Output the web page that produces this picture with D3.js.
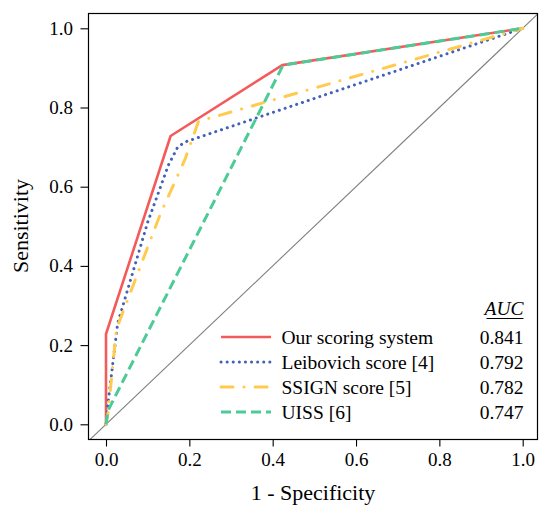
<!DOCTYPE html>
<html>
<head>
<meta charset="utf-8">
<script src="https://cdn.jsdelivr.net/npm/d3@7"></script>
<style>
  body { margin: 0; background: #fff; }
  text { font-family: "Liberation Serif", "Times New Roman", serif; fill: #000; }
</style>
</head>
<body>
<div id="chart"></div>
<script>
// ROC curves (1 - specificity, sensitivity)
var seriesNames = ["Our scoring system", "Leibovich score [4]", "SSIGN score [5]", "UISS [6]"];
var aucValues = ["0.841", "0.792", "0.782", "0.747"];
var ourFpr  = [0, 0, 0.155, 0.423, 1];
var ourTpr  = [0, 0.228, 0.728, 0.907, 1];
var leiFpr  = [0, 0.005, 0.028, 0.10, 0.15, 0.172, 0.19, 1];
var leiTpr  = [0, 0.055, 0.255, 0.51, 0.655, 0.70, 0.713, 1];
var ssiFpr  = [0, 0.005, 0.025, 0.13, 0.19, 0.222, 1];
var ssiTpr  = [0, 0.03, 0.24, 0.53, 0.67, 0.765, 1];
var uissFpr = [0, 0.005, 0.425, 1];
var uissTpr = [0, 0.035, 0.907, 1];
var tickValues = [0, 0.2, 0.4, 0.6, 0.8, 1.0];

var width = 539, height = 505;
var frame = { left: 88.5, right: 537.5, top: 13.5, bottom: 439.5 };

var x = d3.scaleLinear().domain([0, 1]).range([106, 522.7]);
var y = d3.scaleLinear().domain([0, 1]).range([424.3, 28.3]);

var colors = ["#f55a5a", "#4262b8", "#ffcb4f", "#4ccb97"];
var widths = [2.6, 3, 3, 3];
var dashes = [null, "0.1,6", "12,11,0.1,11", "10,5"];
var caps = ["butt", "round", "round", "butt"];

var svg = d3.select("#chart").append("svg")
    .attr("width", width)
    .attr("height", height);

svg.append("clipPath").attr("id", "clip")
  .append("rect")
    .attr("x", frame.left).attr("y", frame.top)
    .attr("width", frame.right - frame.left)
    .attr("height", frame.bottom - frame.top);

var plot = svg.append("g").attr("clip-path", "url(#clip)");

// reference diagonal
plot.append("line")
    .attr("x1", x(-0.1)).attr("y1", y(-0.1))
    .attr("x2", x(1.1)).attr("y2", y(1.1))
    .attr("stroke", "#808080")
    .attr("stroke-width", 1.1);

var curves = [
  d3.zip(ourFpr, ourTpr),
  d3.zip(leiFpr, leiTpr),
  d3.zip(ssiFpr, ssiTpr),
  d3.zip(uissFpr, uissTpr)
];

var line = d3.line()
    .x(function (d) { return x(d[0]); })
    .y(function (d) { return y(d[1]); });

curves.forEach(function (pts, i) {
  plot.append("path")
      .datum(pts)
      .attr("d", line)
      .attr("fill", "none")
      .attr("stroke", colors[i])
      .attr("stroke-width", widths[i])
      .attr("stroke-dasharray", dashes[i])
      .attr("stroke-linecap", caps[i])
      .attr("stroke-linejoin", "round");
});

// frame
svg.append("rect")
    .attr("x", frame.left).attr("y", frame.top)
    .attr("width", frame.right - frame.left)
    .attr("height", frame.bottom - frame.top)
    .attr("fill", "none")
    .attr("stroke", "#000")
    .attr("stroke-width", 1.2);

// axes
var xAxis = d3.axisBottom(x).tickValues(tickValues).tickFormat(d3.format(".1f"))
    .tickSize(7).tickPadding(6);
var yAxis = d3.axisLeft(y).tickValues(tickValues).tickFormat(d3.format(".1f"))
    .tickSize(8).tickPadding(7.5);

var gx = svg.append("g")
    .attr("transform", "translate(0," + frame.bottom + ")")
    .call(xAxis);
gx.select(".domain").remove();
gx.selectAll("line").attr("stroke", "#000").attr("stroke-width", 1.1);
gx.selectAll("text").style("font-size", "19px")
    .style("font-family", "'Liberation Serif', serif");

var gy = svg.append("g")
    .attr("transform", "translate(" + frame.left + ",0)")
    .call(yAxis);
gy.select(".domain").remove();
gy.selectAll("line").attr("stroke", "#000").attr("stroke-width", 1.1);
gy.selectAll("text").style("font-size", "19px")
    .style("font-family", "'Liberation Serif', serif");

// axis titles
svg.append("text")
    .attr("x", (frame.left + frame.right) / 2)
    .attr("y", 500)
    .attr("text-anchor", "middle")
    .style("font-size", "22px")
    .text("1 - Specificity");

svg.append("text")
    .attr("transform", "translate(28," + 226 + ") rotate(-90)")
    .attr("text-anchor", "middle")
    .style("font-size", "22px")
    .text("Sensitivity");

// legend
var legendTop = 337, rowGap = 25;

svg.append("text")
    .attr("x", 523.5)
    .attr("y", 315)
    .attr("text-anchor", "end")
    .style("font-size", "19.5px")
    .style("font-style", "italic")
    .text("AUC");
svg.append("line")
    .attr("x1", 486.5).attr("x2", 523.5)
    .attr("y1", 318.5).attr("y2", 318.5)
    .attr("stroke", "#000").attr("stroke-width", 1);

var legend = svg.selectAll(".legend")
    .data(seriesNames)
    .enter().append("g")
    .attr("class", "legend")
    .attr("transform", function (d, i) { return "translate(0," + (legendTop + i * rowGap) + ")"; });

legend.append("line")
    .attr("x1", 221).attr("x2", 271)
    .attr("y1", 0).attr("y2", 0)
    .attr("stroke", function (d, i) { return colors[i]; })
    .attr("stroke-width", function (d, i) { return widths[i]; })
    .attr("stroke-dasharray", function (d, i) { return dashes[i]; })
    .attr("stroke-linecap", function (d, i) { return caps[i]; });

legend.append("text")
    .attr("x", 281.5)
    .attr("y", 6.5)
    .style("font-size", "19.5px")
    .text(function (d) { return d; });

legend.append("text")
    .attr("x", 523.5)
    .attr("y", 6.5)
    .attr("text-anchor", "end")
    .style("font-size", "19.5px")
    .text(function (d, i) { return aucValues[i]; });
</script>
</body>
</html>
